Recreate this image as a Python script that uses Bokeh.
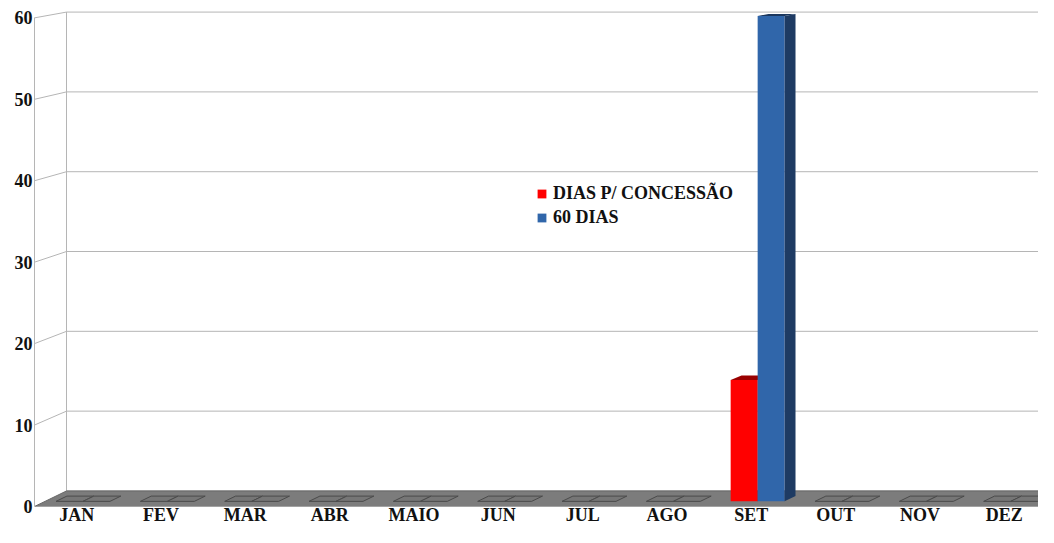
from bokeh.plotting import figure
from bokeh.models import Range1d, FixedTicker, Legend, LegendItem
from bokeh.embed import file_html
from bokeh.resources import INLINE

# ---------------- data ----------------
months = ["JAN", "FEV", "MAR", "ABR", "MAIO", "JUN", "JUL", "AGO", "SET", "OUT", "NOV", "DEZ"]
dias_concessao = [0, 0, 0, 0, 0, 0, 0, 0, 15, 0, 0, 0]
dias_60 = [0, 0, 0, 0, 0, 0, 0, 0, 60, 0, 0, 0]
series_labels = ["DIAS P/ CONCESSÃO", "60 DIAS"]
y_ticks = [0, 10, 20, 30, 40, 50, 60]

# ---------------- geometry / style ----------------
W, H = 1038, 527
LEFT = 34
BOTTOM = 20
SLOT_PX = 84.33
PX_PER_UNIT = 8.16
N = len(months)
X_END = (W - LEFT) / SLOT_PX
Y_START = 0.0
Y_END = (H - BOTTOM) / PX_PER_UNIT

DX = 32 / SLOT_PX             # depth shift in x units
DY0 = 1.91                    # depth shift in value units at value 0
DYS = 0.02                    # perspective shrink of back wall


def proj(x, v, z):
    return x + z * DX, v + z * (DY0 - DYS * v)


GRID = "#b5b5b5"
series_vals = [dias_concessao, dias_60]
x_slots = [(0.13, 0.45), (0.45, 0.77)]
Z0, Z1 = 0.33, 0.67
front_col = ["#ff0000", "#3066aa"]
top_col = ["#9a0000", "#1b375e"]
side_col = ["#b40000", "#1e3b63"]

p = figure(width=W, height=H, output_backend="svg", toolbar_location=None,
           x_range=Range1d(0, X_END), y_range=Range1d(Y_START, Y_END),
           min_border_left=LEFT, min_border_right=0,
           min_border_top=0, min_border_bottom=BOTTOM, outline_line_color=None,
           background_fill_color="white", border_fill_color="white")
p.xgrid.visible = False
p.ygrid.visible = False

# y axis (front edge of the left wall)
ax = p.yaxis[0]
ax.ticker = FixedTicker(ticks=y_ticks)
ax.bounds = (0, 60)
ax.major_tick_out = 0
ax.major_tick_in = 0
ax.minor_tick_out = 0
ax.minor_tick_in = 0
ax.axis_line_color = GRID
ax.major_label_standoff = 2
ax.major_label_text_font = "Liberation Serif"
ax.major_label_text_font_style = "bold"
ax.major_label_text_font_size = "18px"
ax.major_label_text_color = "#111111"

# x axis: month names under the front edge of the floor
xa = p.xaxis[0]
xa.ticker = FixedTicker(ticks=[i + 0.5 for i in range(N)])
xa.major_label_overrides = {i + 0.5: m for i, m in enumerate(months)}
xa.axis_line_color = None
xa.major_tick_out = 0
xa.major_tick_in = 0
xa.minor_tick_out = 0
xa.minor_tick_in = 0
xa.major_label_standoff = -2
xa.major_label_text_line_height = 0.9
xa.major_label_text_font = "Liberation Serif"
xa.major_label_text_font_style = "bold"
xa.major_label_text_font_size = "18px"
xa.major_label_text_color = "#111111"

# back wall gridlines and left wall lines
xs, ys = [], []
for t in y_ticks:
    bx0, by0 = proj(0, t, 1)
    bx1, by1 = proj(N + 1, t, 1)
    xs.append([bx0, bx1]); ys.append([by0, by1])
    if t > 0:
        fx, fy = proj(0, t, 0)
        xs.append([fx, bx0]); ys.append([fy, by0])
vx0, vy0 = proj(0, 0, 1)
vx1, vy1 = proj(0, y_ticks[-1], 1)
xs.append([vx0, vx1]); ys.append([vy0, vy1])
p.multi_line(xs, ys, line_color=GRID, line_width=1)

# floor
floor_pts = [proj(0, 0, 0), proj(N + 1, 0, 0), proj(N + 1, 0, 1), proj(0, 0, 1)]
p.patch([q[0] for q in floor_pts], [q[1] for q in floor_pts],
        fill_color="#7c7c7c", line_color="#666666", line_width=1)

# zero-height bars (footprints on the floor)
fx_list, fy_list = [], []
for i in range(N):
    for s in range(2):
        if series_vals[s][i] == 0:
            a, b = x_slots[s]
            pts = [proj(i + a, 0, Z0), proj(i + b, 0, Z0), proj(i + b, 0, Z1), proj(i + a, 0, Z1)]
            fx_list.append([q[0] for q in pts]); fy_list.append([q[1] for q in pts])
p.patches(fx_list, fy_list, fill_color="#767676", line_color="#4a4a4a", line_width=1)

# bars
legend_items = []
for s in range(2):
    a, b = x_slots[s]
    vals = series_vals[s]
    left = [proj(i + a, 0, Z0)[0] for i in range(N)]
    right = [proj(i + b, 0, Z0)[0] for i in range(N)]
    bottom = [proj(i + a, 0, Z0)[1] for i in range(N)]
    top = [proj(i + a, vals[i], Z0)[1] for i in range(N)]
    r = p.quad(left=left, right=right, bottom=bottom, top=top,
               fill_color=front_col[s], line_color=None)
    legend_items.append(LegendItem(label=series_labels[s], renderers=[r]))
    txs, tys, sxs, sys_ = [], [], [], []
    for i in range(N):
        v = vals[i]
        if v <= 0:
            continue
        tp = [proj(i + a, v, Z0), proj(i + b, v, Z0), proj(i + b, v, Z1), proj(i + a, v, Z1)]
        sp = [proj(i + b, 0, Z0), proj(i + b, v, Z0), proj(i + b, v, Z1), proj(i + b, 0, Z1)]
        txs.append([q[0] for q in tp]); tys.append([q[1] for q in tp])
        sxs.append([q[0] for q in sp]); sys_.append([q[1] for q in sp])
    p.patches(txs, tys, fill_color=top_col[s], line_color=None)
    p.patches(sxs, sys_, fill_color=side_col[s], line_color=None)

legend = Legend(items=legend_items, location=(502, 278), orientation="vertical",
                border_line_color=None, background_fill_alpha=0,
                padding=0, margin=0, spacing=3, glyph_width=11, glyph_height=11,
                label_standoff=6, label_height=20,
                label_text_font="Liberation Serif", label_text_font_style="bold",
                label_text_font_size="18px", label_text_color="#111111")
p.add_layout(legend)

open("out.html", "w").write(file_html(p, INLINE))
